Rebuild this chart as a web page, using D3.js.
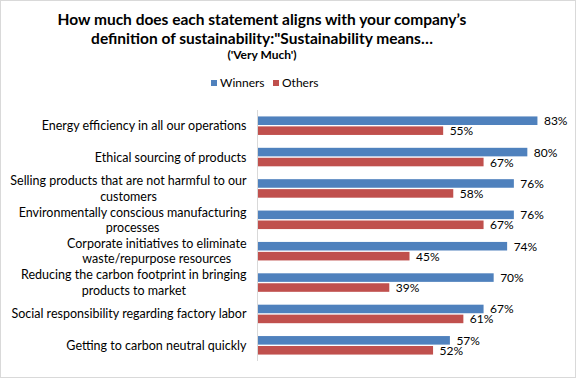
<!DOCTYPE html>
<html>
<head>
<meta charset="utf-8">
<script src="https://cdn.jsdelivr.net/npm/d3@7"></script>
<style>
  body { margin: 0; background: #fff; }
  #chart { width: 576px; height: 378px; }
  text { font-family: "Lato", "Open Sans", sans-serif; fill: #000; }
</style>
</head>
<body>
<div id="chart"></div>
<script>
// data
const categories = [
    ['Energy efficiency in all our operations'],
    ['Ethical sourcing of products'],
    ['Selling products that are not harmful to our', 'customers'],
    ['Environmentally conscious manufacturing', 'processes'],
    ['Corporate initiatives to eliminate', 'waste/repurpose resources'],
    ['Reducing the carbon footprint in bringing', 'products to market'],
    ['Social responsibility regarding factory labor'],
    ['Getting to carbon neutral quickly']
];
const winners = [83, 80, 76, 76, 74, 70, 67, 57];
const others = [55, 67, 58, 67, 45, 39, 61, 52];
const seriesNames = ['Winners', 'Others'];
const colors = ['#4f81bd', '#c0504d'];
const titleLines = ['How much does each statement aligns with your company\u2019s',
    'definition of sustainability:"Sustainability means\u2026'];
const subtitle = "('Very Much')";

const width = 576, height = 378;
const margin = {top: 110, right: 16, bottom: 17, left: 257};
const centerX = 262;

const svg = d3.select('#chart').append('svg')
    .attr('width', width)
    .attr('height', height);

// outer border
svg.append('rect')
    .attr('x', 0.5).attr('y', 0.5)
    .attr('width', width - 1).attr('height', height - 1)
    .attr('fill', '#fff')
    .attr('stroke', '#d9d9d9');

// title
svg.selectAll('.title')
    .data(titleLines)
    .enter().append('text')
    .attr('class', 'title')
    .attr('x', centerX)
    .attr('y', (d, i) => 25 + i * 18.5)
    .attr('text-anchor', 'middle')
    .style('font-size', '15.5px')
    .style('font-weight', 'bold')
    .text(d => d);

svg.append('text')
    .attr('x', centerX)
    .attr('y', 59)
    .attr('text-anchor', 'middle')
    .style('font-size', '12px')
    .style('font-weight', 'bold')
    .text(subtitle);

// legend
const legend = svg.append('g').attr('transform', 'translate(211,87)');
const legendItem = legend.selectAll('g')
    .data(seriesNames)
    .enter().append('g')
    .attr('transform', (d, i) => 'translate(' + (i * 62) + ',0)');
legendItem.append('rect')
    .attr('x', 0).attr('y', -7)
    .attr('width', 6).attr('height', 6)
    .attr('fill', (d, i) => colors[i]);
legendItem.append('text')
    .attr('x', 9)
    .attr('y', 0)
    .style('font-size', '12px')
    .text(d => d);

// scales
const plotH = height - margin.top - margin.bottom;

const xScale = d3.scaleLinear()
    .domain([0, 90])
    .range([0, 303]);

const yScale = d3.scaleBand()
    .domain(d3.range(categories.length))
    .range([0, plotH])
    .paddingInner(0.41)
    .paddingOuter(0.205);

const subScale = d3.scaleBand()
    .domain([0, 1])
    .range([0, yScale.bandwidth()])
    .paddingInner(0.14);

const g = svg.append('g')
    .attr('transform', 'translate(' + margin.left + ',' + margin.top + ')');

// y axis line
g.append('line')
    .attr('x1', 0.5).attr('x2', 0.5)
    .attr('y1', 0).attr('y2', plotH)
    .attr('stroke', '#d9d9d9');

// category labels (right aligned block, lines centred within it)
const labels = g.selectAll('.cat')
    .data(categories)
    .enter().append('text')
    .attr('class', 'cat')
    .attr('y', (d, i) => yScale(i) + yScale.bandwidth() / 2)
    .style('font-size', '12.5px');
labels.each(function (lines) {
    const t = d3.select(this);
    const lh = 15.5;
    const right = -10.5;
    const start = -(lines.length - 1) * lh / 2 + 4.5;
    const spans = lines.map((l, j) => t.append('tspan')
        .attr('dy', j === 0 ? start : lh)
        .text(l));
    const widths = spans.map(s => s.node().getComputedTextLength());
    const maxW = d3.max(widths);
    spans.forEach((s, j) => {
        s.attr('x', right - maxW / 2)
            .attr('text-anchor', 'middle');
    });
});

// bars
const rows = categories.map((c, i) => [winners[i], others[i]]);
const group = g.selectAll('.grp')
    .data(rows)
    .enter().append('g')
    .attr('class', 'grp')
    .attr('transform', (d, i) => 'translate(0,' + yScale(i) + ')');

group.selectAll('rect')
    .data(d => d)
    .enter().append('rect')
    .attr('x', 1)
    .attr('y', (d, j) => subScale(j))
    .attr('width', d => xScale(d))
    .attr('height', subScale.bandwidth())
    .attr('fill', (d, j) => colors[j]);

group.selectAll('.val')
    .data(d => d)
    .enter().append('text')
    .attr('class', 'val')
    .attr('x', d => xScale(d) + 7.5)
    .attr('y', (d, j) => subScale(j) + subScale.bandwidth() / 2 + 4.5)
    .style('font-size', '12px')
    .text(d => d + '%');
</script>
</body>
</html>
